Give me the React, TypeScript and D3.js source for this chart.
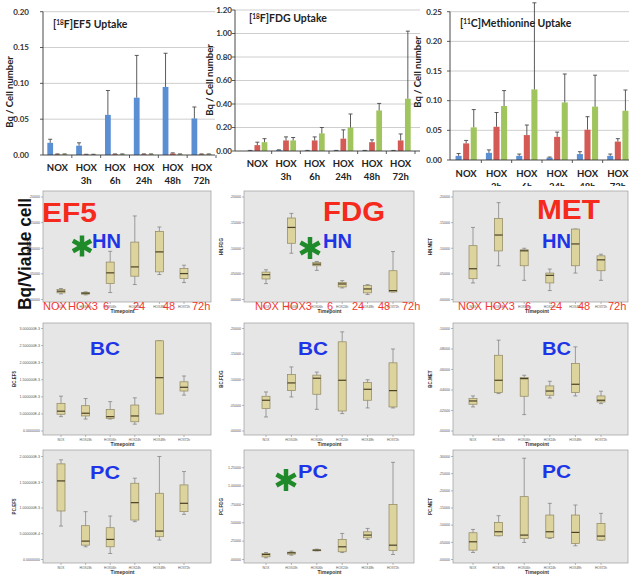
import React, { useEffect, useRef } from 'react';
import * as d3 from 'd3';

const W = 629, H = 576;

const categories = ['NOX', 'HOX 3h', 'HOX 6h', 'HOX 24h', 'HOX 48h', 'HOX 72h'];
const spssLabels = ['NOX', 'HOX03h', 'HOX06h', 'HOX24h', 'HOX48h', 'HOX72h'];
const barColors = ['#5b8fd4', '#d45a55', '#a0c55e'];

// ---- bar charts: means and upper error (mean + sd), Bq / cell number
const ef5Blue = [0.017, 0.013, 0.056, 0.080, 0.095, 0.051];
const ef5BlueErr = [0.022, 0.017, 0.090, 0.139, 0.142, 0.067];
const ef5Red = [0.001, 0.0006, 0.001, 0.001, 0.002, 0.001];
const ef5RedErr = [0.0015, 0.001, 0.0015, 0.0015, 0.003, 0.0015];
const ef5Green = [0.001, 0.0006, 0.001, 0.001, 0.001, 0.001];
const ef5GreenErr = [0.0015, 0.001, 0.0015, 0.0015, 0.0015, 0.0015];

const fdgBlue = [0.004, 0.008, 0.004, 0.004, 0.004, 0.004];
const fdgBlueErr = [0.005, 0.010, 0.005, 0.005, 0.005, 0.005];
const fdgRed = [0.050, 0.090, 0.090, 0.105, 0.075, 0.090];
const fdgRedErr = [0.075, 0.120, 0.120, 0.180, 0.095, 0.145];
const fdgGreen = [0.075, 0.090, 0.150, 0.200, 0.345, 0.445];
const fdgGreenErr = [0.105, 0.115, 0.200, 0.315, 0.405, 1.020];

const metBlue = [0.007, 0.012, 0.007, 0.004, 0.010, 0.007];
const metBlueErr = [0.011, 0.017, 0.010, 0.005, 0.014, 0.010];
const metRed = [0.028, 0.056, 0.042, 0.039, 0.051, 0.031];
const metRedErr = [0.033, 0.080, 0.059, 0.047, 0.073, 0.036];
const metGreen = [0.055, 0.091, 0.119, 0.097, 0.090, 0.083];
const metGreenErr = [0.085, 0.117, 0.265, 0.145, 0.143, 0.118];

// ---- box plots: [low whisker, q1, median, q3, high whisker] per timepoint
const hnEf5 = [[0.011, 0.013, 0.0162, 0.0195, 0.0214], [0.009, 0.0104, 0.0123, 0.0136, 0.0149], [0.0136, 0.031, 0.052, 0.073, 0.094], [0.0292, 0.0455, 0.0636, 0.112, 0.163], [0.0487, 0.0539, 0.0929, 0.133, 0.1415], [0.0331, 0.0409, 0.0506, 0.0604, 0.0669]];
const hnFdg = [[0.031, 0.04, 0.0484, 0.0535, 0.058], [0.0903, 0.1097, 0.1406, 0.159, 0.168], [0.0568, 0.0658, 0.069, 0.0723, 0.0742], [0.0226, 0.0245, 0.0303, 0.0335, 0.0368], [0.0097, 0.0129, 0.0206, 0.0271, 0.029], [0.0148, 0.0148, 0.0174, 0.0561, 0.0935]];
const hnMet = [[0.0323, 0.0406, 0.06, 0.105, 0.1406], [0.0658, 0.0948, 0.1258, 0.158, 0.189], [0.0374, 0.0658, 0.095, 0.097, 0.1], [0.0174, 0.0323, 0.0471, 0.0516, 0.0594], [0.0516, 0.0658, 0.1084, 0.1374, 0.1374], [0.0374, 0.0561, 0.0774, 0.0852, 0.0884]];
const bcEf5 = [[0.00042, 0.00049, 0.00058, 0.00081, 0.00102], [0.00035, 0.00044, 0.00052, 0.00074, 0.00095], [0.00035, 0.00037, 0.00042, 0.00063, 0.00086], [0.0002, 0.00027, 0.00044, 0.00076, 0.00097], [0.0005, 0.0005, 0.00156, 0.00264, 0.00264], [0.00105, 0.00117, 0.00128, 0.00144, 0.00161]];
const bcFdg = [[0.0274, 0.0437, 0.06, 0.0678, 0.0762], [0.0664, 0.0788, 0.0938, 0.11, 0.125], [0.0423, 0.0717, 0.103, 0.109, 0.115], [0.034, 0.039, 0.099, 0.174, 0.1935], [0.045, 0.06, 0.0814, 0.0945, 0.1], [0.045, 0.0469, 0.0788, 0.133, 0.16]];
const bcMet = [[0.0235, 0.0261, 0.0293, 0.0316, 0.0342], [0.0365, 0.0375, 0.0495, 0.0739, 0.0886], [0.016, 0.0339, 0.0511, 0.0521, 0.0544], [0.0322, 0.0349, 0.039, 0.044, 0.0485], [0.0342, 0.0375, 0.0456, 0.0658, 0.0821], [0.0267, 0.0283, 0.03, 0.0342, 0.0388]];
const pcEf5 = [[0.000649, 0.000942, 0.001526, 0.001857, 0.001935], [0.000247, 0.000279, 0.000357, 0.000656, 0.000929], [0.000117, 0.000247, 0.00039, 0.000617, 0.000844], [0.000734, 0.000766, 0.001104, 0.001481, 0.001578], [0.000377, 0.000442, 0.000552, 0.001286, 0.002], [0.000877, 0.000929, 0.001091, 0.001448, 0.001708]];
const pcFdg = [[0.023, 0.036, 0.068, 0.082, 0.095], [0.059, 0.073, 0.091, 0.1, 0.114], [0.118, 0.123, 0.127, 0.132, 0.141], [0.095, 0.105, 0.173, 0.273, 0.355], [0.273, 0.295, 0.332, 0.377, 0.423], [0.068, 0.123, 0.195, 0.75, 1.323]];
const pcMet = [[0.0204, 0.0273, 0.0516, 0.0779, 0.0876], [0.0691, 0.0691, 0.0808, 0.108, 0.1276], [0.0497, 0.0613, 0.0711, 0.183, 0.295], [0.0613, 0.0633, 0.0808, 0.1295, 0.1636], [0.0399, 0.0467, 0.0789, 0.1295, 0.1587], [0.0565, 0.0565, 0.0682, 0.1052, 0.1344]];

const redLabels = ['NOX', 'HOX3', '6', '24', '48', '72h'];

const BAR_FONT = 'Lato, "Open Sans", sans-serif';
const ARIAL = '"Liberation Sans", Arial, sans-serif';

function drawBarChart(svg: any, c: any) {
  const g = svg.append('g');
  const y = d3.scaleLinear().domain([0, c.max]).range([c.yBottom, c.yTop]);
  const x = d3.scaleBand().domain(categories).range([c.bandStart, c.bandEnd]);
  const inner = d3.scaleBand().domain(['0', '1', '2']).range([0, x.bandwidth()]).paddingInner(0.2).paddingOuter(0.6);
  const ticks = d3.range(0, c.max + c.step / 2, c.step);

  // grid
  g.selectAll(null).data(ticks.slice(1)).enter().append('line')
    .attr('x1', c.axisX).attr('x2', c.gridEnd)
    .attr('y1', (d: number) => y(d)).attr('y2', (d: number) => y(d))
    .attr('stroke', '#c2c2c2').attr('stroke-width', 0.8);

  // y labels
  g.selectAll(null).data(ticks).enter().append('text')
    .attr('x', c.tickLabelRight).attr('y', (d: number) => y(d)).attr('dy', '0.35em')
    .attr('text-anchor', 'end').attr('font-family', BAR_FONT).attr('font-weight', 'bold')
    .attr('font-size', 8).attr('fill', '#333')
    .text(d3.format('.2f'));
  g.selectAll(null).data(ticks).enter().append('line')
    .attr('x1', c.axisX - 3).attr('x2', c.axisX)
    .attr('y1', (d: number) => y(d)).attr('y2', (d: number) => y(d))
    .attr('stroke', '#333').attr('stroke-width', 0.8);

  // bars + error bars
  c.series.forEach((s: any, si: number) => {
    const bx = (i: number) => (x(categories[i]) as number) + (inner(String(si)) as number);
    const bw = inner.bandwidth();
    g.selectAll(null).data(s.values).enter().append('rect')
      .attr('x', (_: number, i: number) => bx(i))
      .attr('y', (d: number) => y(d))
      .attr('width', bw)
      .attr('height', (d: number) => y(0) - y(d))
      .attr('fill', barColors[si]);
    g.selectAll(null).data(s.err).enter().append('path')
      .attr('d', (d: number, i: number) => {
        const cx = bx(i) + bw / 2;
        const top = Math.max(y(d), 0);
        return `M${cx},${y(s.values[i])}V${top}M${cx - 2},${top}H${cx + 2}`;
      })
      .attr('stroke', '#4a4a4a').attr('stroke-width', 0.9).attr('fill', 'none');
  });

  // axes
  g.append('line').attr('x1', c.axisX).attr('x2', c.axisX).attr('y1', y(c.max)).attr('y2', y(0))
    .attr('stroke', '#333').attr('stroke-width', 0.9);
  g.append('line').attr('x1', c.axisX).attr('x2', c.gridEnd).attr('y1', y(0)).attr('y2', y(0))
    .attr('stroke', '#333').attr('stroke-width', 0.9);
  g.selectAll(null).data(categories).enter().append('line')
    .attr('x1', (d: string) => (x(d) as number) + x.bandwidth())
    .attr('x2', (d: string) => (x(d) as number) + x.bandwidth())
    .attr('y1', y(0)).attr('y2', y(0) + 3)
    .attr('stroke', '#333').attr('stroke-width', 0.8);

  // category labels (two lines)
  const lab = g.selectAll(null).data(categories).enter().append('text')
    .attr('text-anchor', 'middle').attr('font-family', BAR_FONT).attr('font-weight', 'bold')
    .attr('font-size', 9.5).attr('fill', '#222');
  lab.each(function (this: any, d: string) {
    const cx = (x(d) as number) + x.bandwidth() / 2;
    const parts = d.split(' ');
    parts.forEach((p, k) => {
      d3.select(this).append('tspan').attr('x', cx).attr('y', k === 0 ? c.xLabelY1 : c.xLabelY2).text(p);
    });
  });

  // title
  const t = g.append('text').attr('x', c.titleX).attr('y', c.titleY)
    .attr('font-family', BAR_FONT).attr('font-weight', 'bold').attr('font-size', 10.5).attr('fill', '#222');
  t.append('tspan').text('[');
  t.append('tspan').attr('font-size', 6.5).attr('dy', -3.5).text(c.iso);
  t.append('tspan').attr('dy', 3.5).text(c.title);

  // y title
  g.append('text').attr('transform', `translate(${c.ylabX},${c.ylabY}) rotate(-90)`)
    .attr('text-anchor', 'middle').attr('font-family', BAR_FONT).attr('font-weight', 'bold')
    .attr('font-size', 9.5).attr('fill', '#222').text('Bq / Cell number');
}

function fmtE(v: number) {
  return v === 0 ? '0.0000000' : v.toExponential(6).replace('e', 'E');
}
function fmtD(v: number) {
  return d3.format('.5f')(v).replace(/^0\./, '.');
}

function drawBoxPanel(svg: any, col: any, row: any, p: any) {
  const g = svg.append('g');
  g.append('rect').attr('x', col.left).attr('y', row.top)
    .attr('width', col.right - col.left).attr('height', row.bottom - row.top)
    .attr('fill', '#e6e6e6').attr('stroke', '#9c9c9c').attr('stroke-width', 0.7);
  const y = d3.scaleLinear().domain([0, p.max]).range([row.zeroY, p.topY ?? row.topY]);
  const x = d3.scalePoint().domain(categories).range([col.px0, col.px1]);
  const ticks = d3.range(0, p.max + p.step / 2, p.step);
  const fmt = p.exp ? fmtE : fmtD;

  g.selectAll(null).data(ticks).enter().append('line')
    .attr('x1', col.left - 2).attr('x2', col.left)
    .attr('y1', (d: number) => y(d)).attr('y2', (d: number) => y(d))
    .attr('stroke', '#777').attr('stroke-width', 0.5);
  g.selectAll(null).data(ticks).enter().append('text')
    .attr('x', col.left - 3).attr('y', (d: number) => y(d)).attr('dy', '0.35em')
    .attr('text-anchor', 'end').attr('font-family', ARIAL).attr('font-size', 3.6).attr('fill', '#555')
    .text(fmt);
  g.append('text')
    .attr('transform', `translate(${col.left - p.labOff},${(row.top + row.bottom) / 2}) rotate(-90)`)
    .attr('text-anchor', 'middle').attr('font-family', ARIAL).attr('font-weight', 'bold')
    .attr('font-size', 4.5).attr('fill', '#333').text(p.label);

  // x ticks + labels
  g.selectAll(null).data(categories).enter().append('line')
    .attr('x1', (d: string) => x(d)).attr('x2', (d: string) => x(d))
    .attr('y1', row.bottom).attr('y2', row.bottom + 2)
    .attr('stroke', '#777').attr('stroke-width', 0.5);
  g.selectAll(null).data(spssLabels).enter().append('text')
    .attr('x', (_: string, i: number) => x(categories[i])).attr('y', row.bottom + 5.5)
    .attr('text-anchor', 'middle').attr('font-family', ARIAL).attr('font-size', 3.2).attr('fill', '#555')
    .text((d: string) => d);
  g.append('text').attr('x', (col.px0 + col.px1) / 2).attr('y', row.bottom + 11)
    .attr('text-anchor', 'middle').attr('font-family', ARIAL).attr('font-weight', 'bold')
    .attr('font-size', 5).attr('fill', '#333').text('Timepoint');

  // boxes
  const bw = 8;
  const box = g.selectAll(null).data(p.data).enter().append('g')
    .attr('transform', (_: any, i: number) => `translate(${x(categories[i])},0)`);
  box.append('path')
    .attr('d', (d: number[]) => `M0,${y(d[0])}V${y(d[1])}M0,${y(d[3])}V${y(d[4])}M-2,${y(d[0])}H2M-2,${y(d[4])}H2`)
    .attr('stroke', '#7a7a7a').attr('stroke-width', 0.7).attr('fill', 'none');
  box.append('rect')
    .attr('x', -bw / 2).attr('width', bw)
    .attr('y', (d: number[]) => y(d[3]))
    .attr('height', (d: number[]) => Math.max(y(d[1]) - y(d[3]), 1))
    .attr('fill', '#dcd39d').attr('stroke', '#8e8660').attr('stroke-width', 0.7);
  box.append('line')
    .attr('x1', -bw / 2).attr('x2', bw / 2)
    .attr('y1', (d: number[]) => y(d[2])).attr('y2', (d: number[]) => y(d[2]))
    .attr('stroke', '#4a4128').attr('stroke-width', 1.2);
}

function asterisk(svg: any, cx: number, cy: number, r: number) {
  const angles = [90, 30, -30];
  svg.append('g').selectAll(null).data(angles).enter().append('line')
    .attr('x1', (a: number) => cx - r * Math.cos((a * Math.PI) / 180))
    .attr('x2', (a: number) => cx + r * Math.cos((a * Math.PI) / 180))
    .attr('y1', (a: number) => cy - r * Math.sin((a * Math.PI) / 180))
    .attr('y2', (a: number) => cy + r * Math.sin((a * Math.PI) / 180))
    .attr('stroke', '#1f8a2a').attr('stroke-width', 4.5);
}

function bigText(svg: any, x: number, y: number, txt: string, size: number, color: string, len?: number) {
  const t = svg.append('text').attr('x', x).attr('y', y).attr('font-family', ARIAL)
    .attr('font-weight', 'bold').attr('font-size', size).attr('fill', color).text(txt);
  if (len) t.attr('textLength', len).attr('lengthAdjust', 'spacingAndGlyphs');
  return t;
}

export default function App() {
  const ref = useRef<SVGSVGElement>(null);

  useEffect(() => {
    document.body.style.margin = '0';
    const svg = d3.select(ref.current);
    svg.selectAll('*').remove();
    svg.append('rect').attr('width', W).attr('height', H).attr('fill', '#fff');

    // top row bar charts
    drawBarChart(svg, {
      iso: '18', title: 'F]EF5 Uptake', titleX: 53, titleY: 28,
      max: 0.2, step: 0.05, yTop: 11.7, yBottom: 155,
      axisX: 43, bandStart: 43, bandEnd: 216, gridEnd: 215, tickLabelRight: 29,
      xLabelY1: 171, xLabelY2: 184, ylabX: 13, ylabY: 92,
      series: [{ values: ef5Blue, err: ef5BlueErr }, { values: ef5Red, err: ef5RedErr }, { values: ef5Green, err: ef5GreenErr }],
    });
    drawBarChart(svg, {
      iso: '18', title: 'F]FDG Uptake', titleX: 249, titleY: 22,
      max: 1.2, step: 0.2, yTop: 10, yBottom: 151,
      axisX: 235, bandStart: 243, bandEnd: 415, gridEnd: 420, tickLabelRight: 232,
      xLabelY1: 167, xLabelY2: 180, ylabX: 213, ylabY: 80,
      series: [{ values: fdgBlue, err: fdgBlueErr }, { values: fdgRed, err: fdgRedErr }, { values: fdgGreen, err: fdgGreenErr }],
    });
    drawBarChart(svg, {
      iso: '11', title: 'C]Methionine Uptake', titleX: 460, titleY: 27,
      max: 0.25, step: 0.05, yTop: 11.7, yBottom: 160,
      axisX: 450, bandStart: 451, bandEnd: 633, gridEnd: 629, tickLabelRight: 442,
      xLabelY1: 177, xLabelY2: 190, ylabX: 421, ylabY: 72,
      series: [{ values: metBlue, err: metBlueErr }, { values: metRed, err: metRedErr }, { values: metGreen, err: metGreenErr }],
    });

    // box plot images sit on top of the bar charts
    svg.append('rect').attr('x', 0).attr('y', 186).attr('width', W).attr('height', H - 186).attr('fill', '#fff');

    const cols = {
      ef5: { left: 43, right: 211, px0: 61, px1: 184 },
      fdg: { left: 244, right: 414, px0: 266, px1: 393 },
      met: { left: 453, right: 628, px0: 473, px1: 601 },
    };
    const rows = {
      hn: { top: 191, bottom: 302, zeroY: 299.5, topY: 197 },
      bc: { top: 323, bottom: 435, zeroY: 431, topY: 328.5 },
      pc: { top: 450, bottom: 563, zeroY: 559.5, topY: 456.5 },
    };

    drawBoxPanel(svg, cols.ef5, rows.hn, { data: hnEf5, max: 0.2, step: 0.05, label: 'HN.EF5', labOff: 12 });
    drawBoxPanel(svg, cols.fdg, rows.hn, { data: hnFdg, max: 0.2, step: 0.05, label: 'HN.FDG', labOff: 21 });
    drawBoxPanel(svg, cols.met, rows.hn, { data: hnMet, max: 0.2, step: 0.05, label: 'HN.MET', labOff: 21 });
    drawBoxPanel(svg, cols.ef5, rows.bc, { data: bcEf5, max: 0.003, step: 0.0005, exp: true, label: 'BC.EF5', labOff: 27 });
    drawBoxPanel(svg, cols.fdg, rows.bc, { data: bcFdg, max: 0.2, step: 0.05, label: 'BC.FDG', labOff: 21 });
    drawBoxPanel(svg, cols.met, rows.bc, { data: bcMet, max: 0.1, step: 0.02, label: 'BC.MET', labOff: 21 });
    drawBoxPanel(svg, cols.ef5, rows.pc, { data: pcEf5, max: 0.002, step: 0.0005, exp: true, label: 'PC.EF5', labOff: 27 });
    drawBoxPanel(svg, cols.fdg, rows.pc, { data: pcFdg, max: 1.25, step: 0.25, topY: 467.7, label: 'PC.FDG', labOff: 21 });
    drawBoxPanel(svg, cols.met, rows.pc, { data: pcMet, max: 0.3, step: 0.05, label: 'PC.MET', labOff: 21 });

    // overlaid annotations
    const red = '#f5291c', blue = '#1d35e6';
    bigText(svg, 42, 222, 'EF5', 27, red, 55);
    bigText(svg, 323, 221, 'FDG', 27, red, 62);
    bigText(svg, 537, 219, 'MET', 27, red, 63);
    bigText(svg, 92, 248, 'HN', 20, blue, 29);
    bigText(svg, 323, 248, 'HN', 20, blue, 29);
    bigText(svg, 542, 248, 'HN', 20, blue, 29);
    bigText(svg, 90, 355, 'BC', 19, blue, 30);
    bigText(svg, 298, 355, 'BC', 19, blue, 30);
    bigText(svg, 542, 355, 'BC', 19, blue, 29);
    bigText(svg, 90, 479, 'PC', 19, blue, 30);
    bigText(svg, 298, 478, 'PC', 19, blue, 30);
    bigText(svg, 542, 478, 'PC', 19, blue, 29);
    asterisk(svg, 82, 246, 10.5);
    asterisk(svg, 310, 248, 11);
    asterisk(svg, 286, 480, 11);

    svg.append('text').attr('transform', 'translate(31,254) rotate(-90)').attr('text-anchor', 'middle')
      .attr('font-family', ARIAL).attr('font-weight', 'bold').attr('font-size', 18)
      .attr('textLength', 112).attr('lengthAdjust', 'spacingAndGlyphs')
      .attr('fill', '#111').text('Bq/Viable cell');

    const redStarts = [[43, 68, 103, 133, 163, 192], [255, 282, 327, 352, 378, 402], [458, 485, 525, 550, 578, 608]];
    redStarts.forEach((xs) => {
      svg.append('g').selectAll(null).data(redLabels).enter().append('text')
        .attr('x', (_: string, i: number) => xs[i]).attr('y', 310)
        .attr('font-family', ARIAL).attr('font-size', 11).attr('fill', '#f03a30')
        .text((d: string) => d);
    });
  }, []);

  return <svg ref={ref} width={W} height={H} style={{ display: 'block' }} />;
}
